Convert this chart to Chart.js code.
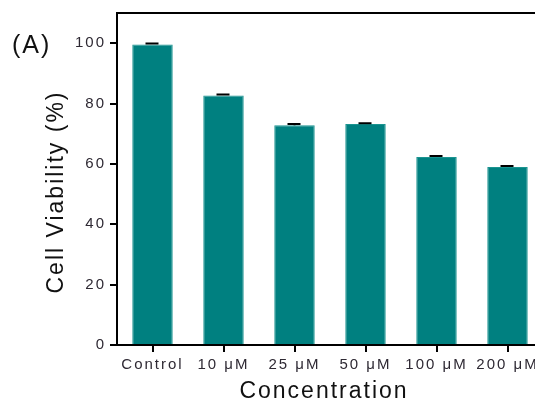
<!DOCTYPE html>
<html>
<head>
<meta charset="utf-8">
<script src="https://cdn.jsdelivr.net/npm/chart.js@4"></script>
<style>
    html, body { margin: 0; padding: 0; overflow: hidden; background: #fff; }
    #wrap { width: 560px; height: 410px; position: relative; }
</style>
</head>
<body>
<div id="wrap"><canvas id="barChart"></canvas></div>
<script>
const concentrations = ['Control', '10 μM', '25 μM', '50 μM', '100 μM', '200 μM'];
const viability = [99.6, 82.7, 72.8, 73.2, 62.3, 59.0];
const viabilityErr = [0.3, 0.3, 0.4, 0.3, 0.3, 0.3];
const yTicks = [0, 20, 40, 60, 80, 100];

const FONT = 'Arial, "Liberation Sans", sans-serif';

// ticks + titles drawn a bit spaced out, like the original figure
const spacing = {
    id: 'spacing',
    beforeLayout(chart) { chart.ctx.letterSpacing = '2px'; },
    beforeDraw(chart) { chart.ctx.letterSpacing = '2px'; }
};

const errorCaps = {
    id: 'errorCaps',
    afterDatasetsDraw(chart) {
        const ctx = chart.ctx;
        const x = chart.scales.x, y = chart.scales.y;
        ctx.save();
        ctx.strokeStyle = '#000';
        ctx.lineWidth = 2;
        viability.forEach((v, i) => {
            const cx = x.getPixelForValue(i);
            const top = y.getPixelForValue(v + viabilityErr[i]);
            const bot = y.getPixelForValue(v);
            ctx.beginPath();
            ctx.moveTo(cx, bot); ctx.lineTo(cx, top);
            ctx.moveTo(cx - 7, top); ctx.lineTo(cx + 6, top);
            ctx.stroke();
        });
        ctx.restore();
    }
};

const frameAndTitles = {
    id: 'frameAndTitles',
    afterDraw(chart) {
        const ctx = chart.ctx;
        const a = chart.chartArea;
        ctx.save();
        ctx.strokeStyle = '#000';
        ctx.lineWidth = 2;
        ctx.beginPath();
        ctx.moveTo(a.left - 1, a.top);
        ctx.lineTo(a.right + 20, a.top);
        ctx.stroke();

        ctx.letterSpacing = '2px';
        ctx.fillStyle = '#111';
        ctx.font = '23px ' + FONT;
        ctx.textAlign = 'center';
        ctx.textBaseline = 'middle';
        ctx.fillText('Concentration', (a.left + a.right) / 2 - 6, 392);

        ctx.save();
        ctx.translate(57, 192);
        ctx.rotate(-Math.PI / 2);
        ctx.fillText('Cell Viability (%)', 0, 0);
        ctx.restore();

        ctx.textAlign = 'left';
        ctx.font = '25px ' + FONT;
        ctx.fillText('(A)', 12, 46);
        ctx.restore();
    }
};

new Chart(document.getElementById('barChart').getContext('2d'), {
    type: 'bar',
    data: {
        labels: concentrations,
        datasets: [{
            data: viability,
            backgroundColor: '#008080',
            borderColor: '#1a9490',
            borderWidth: 1,
            barPercentage: 0.57,
            categoryPercentage: 1
        }]
    },
    options: {
        responsive: true,
        maintainAspectRatio: false,
        animation: false,
        layout: { padding: { left: 0, top: 12, right: 17, bottom: 0 } },
        plugins: {
            legend: { display: false },
            tooltip: { enabled: false }
        },
        scales: {
            x: {
                offset: true,
                border: { color: '#000', width: 2 },
                grid: { offset: false, drawOnChartArea: false, drawTicks: true, tickLength: 7, color: '#000', lineWidth: 2 },
                ticks: { color: '#2e2933', font: { family: FONT, size: 15 }, padding: 4, maxRotation: 0, autoSkip: false },
                afterFit(scale) { scale.height = 65; }
            },
            y: {
                min: 0,
                max: 110,
                border: { color: '#000', width: 2 },
                grid: { drawOnChartArea: false, drawTicks: true, tickLength: 7, color: '#000', lineWidth: 2 },
                ticks: { stepSize: 20, color: '#2e2933', font: { family: FONT, size: 15 }, padding: 4 },
                afterBuildTicks(scale) { scale.ticks = yTicks.map(v => ({ value: v })); },
                afterFit(scale) { scale.width = 117; }
            }
        }
    },
    plugins: [spacing, errorCaps, frameAndTitles]
});
</script>
</body>
</html>
